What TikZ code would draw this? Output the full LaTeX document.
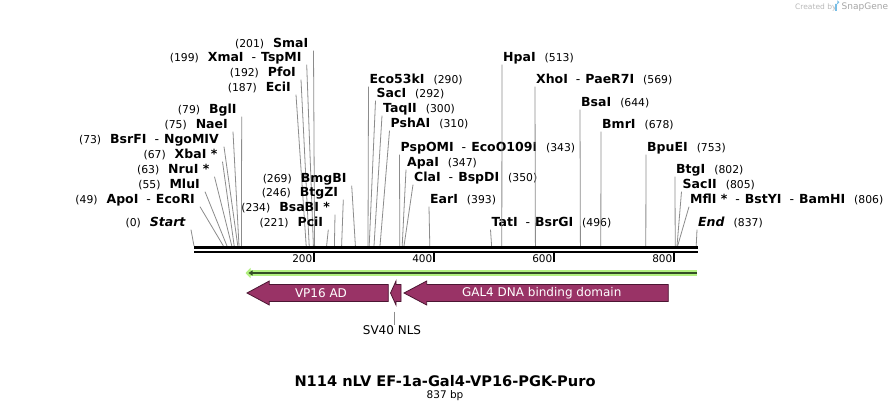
\documentclass[tikz,border=0pt]{standalone}
\usepackage{fontspec}
\setmainfont{DejaVu Sans}
\usetikzlibrary{arrows.meta, positioning}
\definecolor{featpurple}{RGB}{153,51,102}
\definecolor{featedge}{RGB}{75,22,50}
\definecolor{lightgreen}{RGB}{178,240,128}
\definecolor{darkgreen}{RGB}{52,78,38}
\definecolor{sitegray}{RGB}{140,140,140}
\definecolor{logoblue}{RGB}{120,190,230}

\newcommand{\enz}[1]{{\fontsize{12.5}{14}\selectfont\bfseries #1}}
\newcommand{\pos}[1]{{\fontsize{10.8}{13}\selectfont (#1)}}
\newcommand{\dsh}{\hspace{8pt}{\mdseries -}\hspace{5pt}}

\tikzset{
  leftsite/.style={anchor=base east, inner xsep=5pt, inner ysep=0pt, text depth=3pt},
  rightsite/.style={anchor=base west, inner xsep=1pt, inner ysep=0pt, text depth=3pt},
  siteline/.style={draw=sitegray, line width=0.8pt},
  feat/.style={fill=featpurple, draw=featedge, line width=0.8pt, line join=miter},
  feattext/.style={text=white, font=\fontsize{12}{14}\selectfont, inner sep=0pt},
  ticklbl/.style={font=\fontsize{10.5}{12}\selectfont, inner sep=0pt, anchor=east}
}

\begin{document}
\begin{tikzpicture}[x=1pt, y=-1pt]
  \fill[white] (0,0) rectangle (892,412);
  \useasboundingbox (0,0) rectangle (892,412);

  % Sites with the label left of the line
  \foreach \bp/\nx/\ny/\name in {
      0/191/226.5/\textit{Start},
      49/200/203.5/ApoI\dsh EcoRI,
      55/205/188.5/MluI,
      63/214.5/173.5/NruI *,
      67/222.5/158.5/XbaI *,
      73/224/143.5/BsrFI\dsh NgoMIV,
      75/233/128.5/NaeI,
      79/241.7/113.5/BglI,
      187/296/91.5/EciI,
      192/301/76.5/PfoI,
      199/306.7/61.5/XmaI\dsh TspMI,
      201/313.5/47.5/SmaI,
      221/328.3/226.5/PciI,
      234/335/211.5/BsaBI *,
      246/343.3/196.5/BtgZI,
      269/351.7/182.5/BmgBI} {
    \coordinate (s\bp) at ({194+0.6*\bp},246);
    \node[leftsite] (l\bp) at (\nx,\ny) {\pos{\bp}\hspace{9pt}\enz{\name}};
    \draw[siteline] (l\bp.south east) -- (s\bp);
  }

  % Sites with the label right of the line
  \foreach \bp/\nx/\ny/\name in {
      290/368.5/83.5/Eco53kI,
      292/375.5/97.5/SacI,
      300/382/112.5/TaqII,
      310/389.5/127.5/PshAI,
      343/399.5/151.5/PspOMI\dsh EcoO109I,
      347/406/166.5/ApaI,
      350/413/181.5/ClaI\dsh BspDI,
      393/429/203.5/EarI,
      496/490.5/226.5/TatI\dsh BsrGI,
      513/502/61.5/HpaI,
      569/535/83.5/XhoI\dsh PaeR7I,
      644/580/106.5/BsaI,
      678/601/128.5/BmrI,
      753/646/151.5/BpuEI,
      802/675/173.5/BtgI,
      805/681.5/188.5/SacII,
      806/689/203.5/MflI *\dsh BstYI\dsh BamHI,
      837/697/226.5/\textit{End}} {
    \coordinate (s\bp) at ({194+0.6*\bp},246);
    \node[rightsite] (r\bp) at (\nx,\ny) {\enz{\name}\hspace{9pt}\pos{\bp}};
    \draw[siteline] (r\bp.south west) -- (s\bp);
  }

  % Backbone
  \coordinate (bbL) at (194,247.5);
  \coordinate (bbR) at (697.5,247.5);
  \draw[line width=3pt] (bbL) -- (bbR);
  \draw[line width=2pt] ([yshift=-4pt]bbL) -- ([yshift=-4pt]bbR);

  % Ruler ticks
  \foreach \t in {200,400,600,800} {
    \coordinate (t\t) at ({194+0.6*\t},252);
    \draw[line width=1.3pt] (t\t) -- ++(0,10);
    \node[ticklbl] (tl\t) at ({192.5+0.6*\t},259) {\t};
  }

  % Open reading frame
  \coordinate (orfR) at (697,273);
  \coordinate (orfL) at (245.5,273);
  \draw[lightgreen, line width=5.5pt, -{Triangle[length=5pt, width=10pt]}] (orfR) -- (orfL);
  \draw[darkgreen, line width=1.8pt, -{Triangle[length=4pt, width=5pt]}] (orfR) -- ([xshift=3pt]orfL);

  % Features
  \draw[feat] (388.3,284.5) -- (269.3,284.5) -- (269.3,281) -- (247,293)
    -- (269.3,305) -- (269.3,301.5) -- (388.3,301.5) -- cycle;
  \node[feattext] (vp16) at (321,293) {VP16 AD};

  \draw[feat] (401,284.5) -- (396,284.5) -- (396,281) -- (390.5,293)
    -- (396,305) -- (396,301.5) -- (401,301.5) -- cycle;
  \coordinate (nlsbot) at (394.3,311.5);
  \node[font=\fontsize{12}{14}\selectfont, inner sep=0pt, anchor=north] (nls) at (392,325) {SV40 NLS};
  \draw[siteline] (nlsbot) -- (nlsbot |- nls.north);

  \draw[feat] (668.3,284.5) -- (426.7,284.5) -- (426.7,281) -- (404,293)
    -- (426.7,305) -- (426.7,301.5) -- (668.3,301.5) -- cycle;
  \node[feattext] (gal4) at (541.7,293) {GAL4 DNA binding domain};

  % Title
  \node[font=\fontsize{14.6}{16}\selectfont\bfseries, inner sep=0pt] (title) at (445,381) {N114 nLV EF-1a-Gal4-VP16-PGK-Puro};
  \node[font=\fontsize{10.5}{12}\selectfont, inner sep=0pt] (size) at (445,395.5) {837 bp};

  % Watermark
  \node[font=\fontsize{7.5}{9}\selectfont, text=gray!55, inner sep=0pt, anchor=west] (wm) at (795,7.5) {Created by};
  \fill[logoblue] (835,11) -- (835,4) -- (837.5,4) arc (90:-90:1.8) -- (836.8,7.6) -- (836.8,11) -- cycle;
  \node[font=\fontsize{9}{10}\selectfont, text=gray!70, inner sep=0pt, anchor=west] (sg) at (841.5,7.5) {SnapGene};
\end{tikzpicture}
\end{document}
